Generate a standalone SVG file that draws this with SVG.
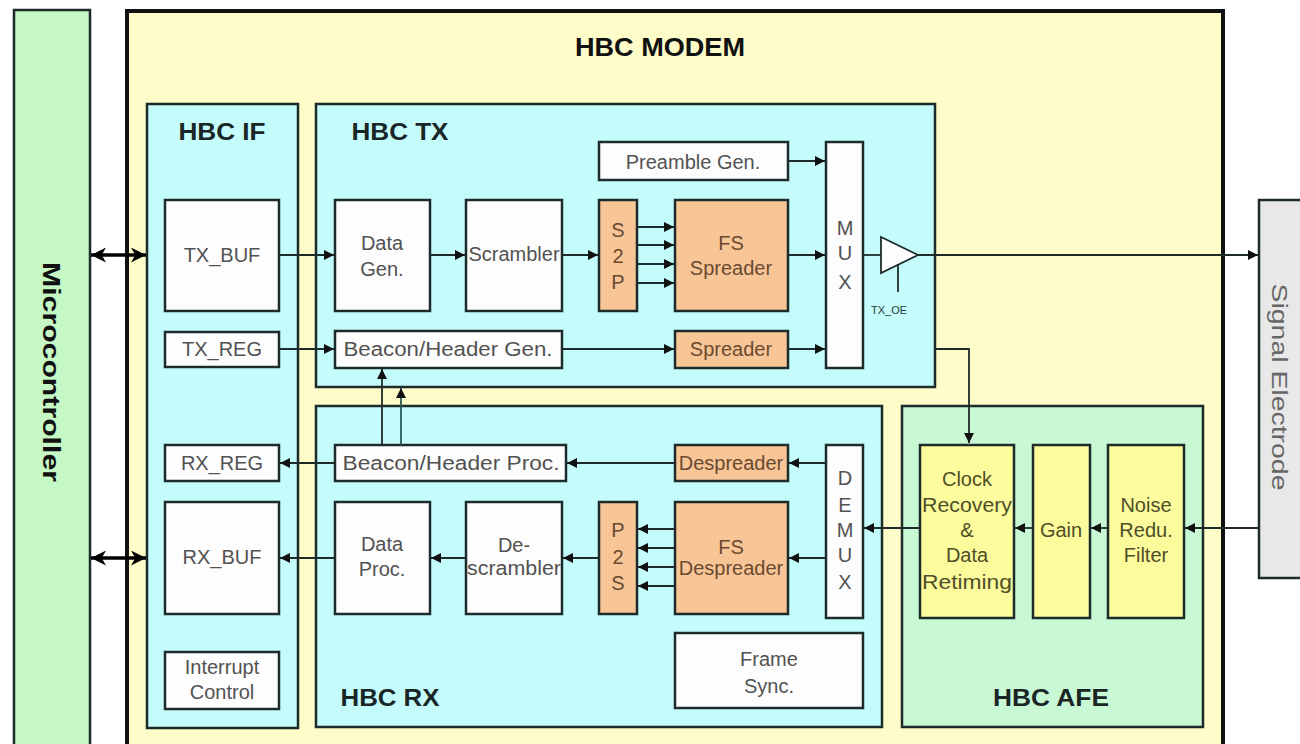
<svg xmlns="http://www.w3.org/2000/svg" width="1300" height="744" viewBox="0 0 1300 744">
<style>
text{font-family:"Liberation Sans",Arial,sans-serif}
.blk{stroke:#1e2b2b;stroke-width:2.5}
.w{fill:#fdfdfd}
.o{fill:#f8c597}
.y{fill:#fcfc9c}
.lbl{fill:#525252;font-size:20px;text-anchor:middle}
.olbl{fill:#6a4a30;font-size:20px;text-anchor:middle}
.ylbl{fill:#4e4e28;font-size:20px;text-anchor:middle}
.ttl{fill:#1a2626;font-size:24px;font-weight:bold;text-anchor:middle}
.ln{stroke:#1e2b2b;stroke-width:1.8;fill:none}
</style>
<defs>
<marker id="ah" viewBox="0 0 10 10" refX="10" refY="5" markerWidth="10" markerHeight="10" markerUnits="userSpaceOnUse" orient="auto">
<path d="M0,0 L10,5 L0,10 z" fill="#111"/>
</marker>
<marker id="bh" viewBox="0 0 14 14" refX="14" refY="7" markerWidth="15" markerHeight="15" markerUnits="userSpaceOnUse" orient="auto-start-reverse">
<path d="M0,0 L14,7 L0,14 L4,7 z" fill="#000"/>
</marker>
</defs>
<rect width="1300" height="744" fill="#ffffff"/>

<g id="microcontroller">
<rect x="14" y="10" width="76" height="745" fill="#c6f8c6" class="blk"/>
<text transform="translate(43,372) rotate(90)" text-anchor="middle" font-size="24" font-weight="bold" fill="#111" textLength="220" lengthAdjust="spacingAndGlyphs">Microcontroller</text>
</g>

<g id="signal-electrode">
<rect x="1259" y="200" width="50" height="378" fill="#e8e8e8" class="blk"/>
<text transform="translate(1272,387) rotate(90)" text-anchor="middle" font-size="22" fill="#666" textLength="207" lengthAdjust="spacingAndGlyphs">Signal Electrode</text>
</g>

<g id="hbc-modem">
<rect x="127" y="11" width="1096" height="745" fill="#fefcc8" stroke="#111" stroke-width="4"/>
<text x="660" y="56" text-anchor="middle" font-size="26" font-weight="bold" fill="#111" textLength="170" lengthAdjust="spacingAndGlyphs">HBC MODEM</text>
</g>

<g id="hbc-if">
<rect x="147" y="104" width="151" height="624" fill="#c4fcfc" class="blk"/>
<text x="222" y="140" class="ttl" textLength="87" lengthAdjust="spacingAndGlyphs">HBC IF</text>
</g>
<g id="hbc-tx">
<rect x="316" y="104" width="619" height="283" fill="#c4fcfc" class="blk"/>
<text x="400" y="140" class="ttl" textLength="97" lengthAdjust="spacingAndGlyphs">HBC TX</text>
</g>
<g id="hbc-rx">
<rect x="316" y="406" width="566" height="321" fill="#c4fcfc" class="blk"/>
<text x="390" y="706" class="ttl" textLength="99" lengthAdjust="spacingAndGlyphs">HBC RX</text>
</g>
<g id="hbc-afe">
<rect x="902" y="406" width="301" height="321" fill="#c8f8d4" class="blk"/>
<text x="1051" y="706" class="ttl" textLength="116" lengthAdjust="spacingAndGlyphs">HBC AFE</text>
</g>

<g id="tx-buf"><rect x="165" y="200" width="114" height="111" class="w blk"/><text x="222" y="262" class="lbl" font-size="18">TX_BUF</text></g>
<g id="tx-reg"><rect x="165" y="332" width="114" height="35" class="w blk"/><text x="222" y="356" class="lbl" font-size="18">TX_REG</text></g>
<g id="rx-reg"><rect x="165" y="445" width="114" height="36" class="w blk"/><text x="222" y="470" class="lbl" font-size="18">RX_REG</text></g>
<g id="rx-buf"><rect x="165" y="502" width="114" height="112" class="w blk"/><text x="222" y="564" class="lbl" font-size="18">RX_BUF</text></g>
<g id="interrupt-control"><rect x="165" y="652" width="114" height="57" class="w blk"/><text x="222" y="674" class="lbl" font-size="19">Interrupt</text><text x="222" y="699" class="lbl" font-size="19">Control</text></g>

<g id="data-gen"><rect x="335" y="200" width="95" height="111" class="w blk"/><text x="382" y="250" class="lbl" font-size="21">Data</text><text x="382" y="276" class="lbl" font-size="21">Gen.</text></g>
<g id="scrambler"><rect x="466" y="200" width="96" height="111" class="w blk"/><text x="514" y="261" class="lbl" font-size="15.5">Scrambler</text></g>
<g id="s2p"><rect x="599" y="200" width="38" height="111" class="o blk"/><text x="618" y="237" class="olbl" font-size="21">S</text><text x="618" y="263" class="olbl" font-size="21">2</text><text x="618" y="289" class="olbl" font-size="21">P</text></g>
<g id="fs-spreader"><rect x="675" y="200" width="113" height="111" class="o blk"/><text x="731" y="250" class="olbl" font-size="20.5">FS</text><text x="731" y="275" class="olbl" font-size="20.5">Spreader</text></g>
<g id="preamble-gen"><rect x="599" y="142" width="189" height="38" class="w blk"/><text x="693" y="169" class="lbl" font-size="21">Preamble Gen.</text></g>
<g id="mux"><rect x="826" y="142" width="37" height="226" class="w blk"/><text x="845" y="235" class="lbl">M</text><text x="845" y="260" class="lbl">U</text><text x="845" y="289" class="lbl">X</text></g>
<g id="tx-buffer-amp"><path d="M881,237 L918,255 L881,273 z" fill="#fdfdfd" stroke="#1e2b2b" stroke-width="1.8"/><line x1="898" y1="264" x2="898" y2="292" class="ln"/><text x="889" y="314" font-size="11" fill="#2a3a3a" text-anchor="middle">TX_OE</text></g>
<g id="beacon-header-gen"><rect x="335" y="331" width="227" height="37" class="w blk"/><text x="448" y="356" class="lbl" font-size="21" textLength="209" lengthAdjust="spacingAndGlyphs">Beacon/Header Gen.</text></g>
<g id="spreader"><rect x="675" y="331" width="113" height="37" class="o blk"/><text x="731" y="356" class="olbl" font-size="21">Spreader</text></g>

<g id="beacon-header-proc"><rect x="335" y="445" width="231" height="36" class="w blk"/><text x="451" y="470" class="lbl" font-size="21" textLength="217" lengthAdjust="spacingAndGlyphs">Beacon/Header Proc.</text></g>
<g id="despreader"><rect x="675" y="445" width="113" height="36" class="o blk"/><text x="731" y="470" class="olbl" font-size="19">Despreader</text></g>
<g id="demux"><rect x="826" y="445" width="37" height="173" class="w blk"/><text x="845" y="485" class="lbl">D</text><text x="845" y="512" class="lbl">E</text><text x="845" y="537" class="lbl">M</text><text x="845" y="562" class="lbl">U</text><text x="845" y="589" class="lbl">X</text></g>
<g id="data-proc"><rect x="335" y="502" width="95" height="112" class="w blk"/><text x="382" y="551" class="lbl" font-size="21">Data</text><text x="382" y="576" class="lbl" font-size="21">Proc.</text></g>
<g id="de-scrambler"><rect x="466" y="502" width="96" height="112" class="w blk"/><text x="514" y="552" class="lbl" font-size="19">De-</text><text x="514" y="575" class="lbl" font-size="19" textLength="94" lengthAdjust="spacingAndGlyphs">scrambler</text></g>
<g id="p2s"><rect x="599" y="502" width="38" height="112" class="o blk"/><text x="618" y="537" class="olbl" font-size="21">P</text><text x="618" y="564" class="olbl" font-size="21">2</text><text x="618" y="590" class="olbl" font-size="21">S</text></g>
<g id="fs-despreader"><rect x="675" y="502" width="113" height="112" class="o blk"/><text x="731" y="554" class="olbl" font-size="19">FS</text><text x="731" y="575" class="olbl" font-size="19">Despreader</text></g>
<g id="frame-sync"><rect x="675" y="633" width="188" height="75" class="w blk"/><text x="769" y="666" class="lbl" font-size="21">Frame</text><text x="769" y="693" class="lbl" font-size="21">Sync.</text></g>

<g id="clock-recovery"><rect x="920" y="445" width="94" height="173" class="y blk"/><text x="967" y="486" class="ylbl">Clock</text><text x="967" y="512" class="ylbl" textLength="90" lengthAdjust="spacingAndGlyphs">Recovery</text><text x="967" y="537" class="ylbl">&amp;</text><text x="967" y="562" class="ylbl">Data</text><text x="967" y="589" class="ylbl" textLength="90" lengthAdjust="spacingAndGlyphs">Retiming</text></g>
<g id="gain"><rect x="1033" y="445" width="57" height="173" class="y blk"/><text x="1061" y="537" class="ylbl" font-size="21">Gain</text></g>
<g id="noise-filter"><rect x="1108" y="445" width="76" height="173" class="y blk"/><text x="1146" y="512" class="ylbl" font-size="21">Noise</text><text x="1146" y="537" class="ylbl" font-size="21">Redu.</text><text x="1146" y="562" class="ylbl" font-size="21">Filter</text></g>

<g id="connectors">
<line x1="91" y1="255" x2="146" y2="255" stroke="#000" stroke-width="3.5" marker-start="url(#bh)" marker-end="url(#bh)"/>
<line x1="91" y1="558" x2="146" y2="558" stroke="#000" stroke-width="3.5" marker-start="url(#bh)" marker-end="url(#bh)"/>
<line x1="279" y1="255" x2="334" y2="255" class="ln" marker-end="url(#ah)"/>
<line x1="430" y1="255" x2="465" y2="255" class="ln" marker-end="url(#ah)"/>
<line x1="562" y1="255" x2="598" y2="255" class="ln" marker-end="url(#ah)"/>
<line x1="637" y1="227" x2="674" y2="227" class="ln" marker-end="url(#ah)"/>
<line x1="637" y1="245" x2="674" y2="245" class="ln" marker-end="url(#ah)"/>
<line x1="637" y1="264" x2="674" y2="264" class="ln" marker-end="url(#ah)"/>
<line x1="637" y1="283" x2="674" y2="283" class="ln" marker-end="url(#ah)"/>
<line x1="788" y1="255" x2="825" y2="255" class="ln" marker-end="url(#ah)"/>
<line x1="788" y1="161" x2="825" y2="161" class="ln" marker-end="url(#ah)"/>
<line x1="788" y1="349" x2="825" y2="349" class="ln" marker-end="url(#ah)"/>
<line x1="562" y1="349" x2="674" y2="349" class="ln" marker-end="url(#ah)"/>
<line x1="279" y1="349" x2="334" y2="349" class="ln" marker-end="url(#ah)"/>
<line x1="863" y1="255" x2="881" y2="255" class="ln"/>
<line x1="918" y1="255" x2="1258" y2="255" class="ln" marker-end="url(#ah)"/>
<polyline points="935,349 969,349 969,443" class="ln" marker-end="url(#ah)"/>
<line x1="382" y1="445" x2="382" y2="369" class="ln" marker-end="url(#ah)"/>
<line x1="401" y1="445" x2="401" y2="388" stroke="#2a5a5a" stroke-width="1.8" marker-end="url(#ah)"/>
<line x1="826" y1="463" x2="789" y2="463" class="ln" marker-end="url(#ah)"/>
<line x1="675" y1="463" x2="567" y2="463" class="ln" marker-end="url(#ah)"/>
<line x1="335" y1="463" x2="280" y2="463" class="ln" marker-end="url(#ah)"/>
<line x1="826" y1="558" x2="789" y2="558" class="ln" marker-end="url(#ah)"/>
<line x1="675" y1="529" x2="638" y2="529" class="ln" marker-end="url(#ah)"/>
<line x1="675" y1="548" x2="638" y2="548" class="ln" marker-end="url(#ah)"/>
<line x1="675" y1="567" x2="638" y2="567" class="ln" marker-end="url(#ah)"/>
<line x1="675" y1="586" x2="638" y2="586" class="ln" marker-end="url(#ah)"/>
<line x1="599" y1="558" x2="563" y2="558" class="ln" marker-end="url(#ah)"/>
<line x1="466" y1="558" x2="431" y2="558" class="ln" marker-end="url(#ah)"/>
<line x1="335" y1="558" x2="280" y2="558" class="ln" marker-end="url(#ah)"/>
<line x1="1259" y1="528" x2="1185" y2="528" class="ln" marker-end="url(#ah)"/>
<line x1="1108" y1="528" x2="1091" y2="528" class="ln" marker-end="url(#ah)"/>
<line x1="1033" y1="528" x2="1015" y2="528" class="ln" marker-end="url(#ah)"/>
<line x1="920" y1="528" x2="864" y2="528" class="ln" marker-end="url(#ah)"/>
</g>
</svg>
